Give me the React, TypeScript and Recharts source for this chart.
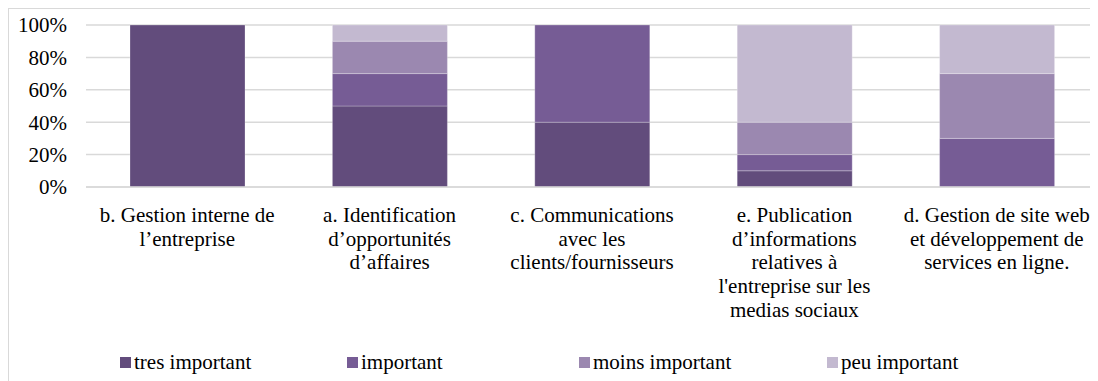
import { BarChart, Bar, XAxis, YAxis, CartesianGrid, Legend } from "recharts";

const categories = [
  ["b. Gestion interne de", "l\u2019entreprise"],
  ["a. Identification", "d\u2019opportunit\u00e9s", "d\u2019affaires"],
  ["c. Communications", "avec les", "clients/fournisseurs"],
  ["e. Publication", "d\u2019informations", "relatives \u00e0", "l'entreprise sur les", "medias sociaux"],
  ["d. Gestion de site web", "et d\u00e9veloppement de", "services en ligne."],
];

const tresImportant = [100, 50, 40, 10, 0];
const important = [0, 20, 60, 10, 30];
const moinsImportant = [0, 20, 0, 20, 40];
const peuImportant = [0, 10, 0, 60, 30];

const yTicks = [0, 20, 40, 60, 80, 100];

const series = [
  { key: "tres", name: "tres important", color: "#624C7C" },
  { key: "imp", name: "important", color: "#765C95" },
  { key: "moins", name: "moins important", color: "#9B88B0" },
  { key: "peu", name: "peu important", color: "#C3B9D0" },
];

const data = categories.map((lines, i) => ({
  id: String(i),
  lines,
  tres: tresImportant[i],
  imp: important[i],
  moins: moinsImportant[i],
  peu: peuImportant[i],
}));

const FONT = "Liberation Serif, DejaVu Serif, serif";

function CategoryTick(props: any) {
  const { x, y, payload } = props;
  const lines = categories[Number(payload.value)] || [];
  return (
    <text x={x} y={y} textAnchor="middle" fill="#000" style={{ fontFamily: FONT, fontSize: 21 }}>
      {lines.map((l, i) => (
        <tspan key={i} x={x} dy={i === 0 ? 27 : 23.7}>
          {l}
        </tspan>
      ))}
    </text>
  );
}

const legendWidths = [227, 232, 248, 200];

function LegendContent() {
  return (
    <div style={{ display: "flex", fontFamily: FONT, fontSize: 21, color: "#000" }}>
      {series.map((s, i) => (
        <div key={s.key} style={{ width: legendWidths[i], display: "flex", alignItems: "center" }}>
          <span style={{ width: 11, height: 11, background: s.color, marginRight: 3, display: "inline-block" }} />
          <span>{s.name}</span>
        </div>
      ))}
    </div>
  );
}

export default function App() {
  return (
    <div
      style={{
        width: 1089,
        height: 372,
        borderLeft: "1px solid #d9d9d9",
        borderTop: "1px solid #d9d9d9",
        background: "#fff",
        fontFamily: FONT,
      }}
    >
      <BarChart
        width={1089}
        height={372}
        data={data}
        margin={{ top: 16, right: 0, left: 0, bottom: 0 }}
        barSize={115}
        style={{ fontFamily: FONT }}
      >
        <CartesianGrid vertical={false} stroke="#d9d9d9" strokeWidth={1.5} />
        <XAxis
          dataKey="id"
          axisLine={{ stroke: "#d9d9d9", strokeWidth: 1.5 }}
          tickLine={false}
          height={194}
          interval={0}
          tick={<CategoryTick />}
        />
        <YAxis
          width={77}
          domain={[0, 100]}
          ticks={yTicks}
          axisLine={false}
          tickLine={false}
          tickMargin={13}
          tickFormatter={(v) => `${v}%`}
          tick={{ fill: "#000", fontSize: 21, fontFamily: FONT }}
        />
        <Legend
          layout="horizontal"
          verticalAlign="middle"
          align="center"
          wrapperStyle={{ top: 341, left: 111, width: 960 }}
          content={<LegendContent />}
        />
        {series.map((s) => (
          <Bar
            key={s.key}
            dataKey={s.key}
            name={s.name}
            stackId="a"
            fill={s.color}
            stroke="rgba(255,255,255,0.25)"
            strokeWidth={1}
            isAnimationActive={false}
          />
        ))}
      </BarChart>
    </div>
  );
}
